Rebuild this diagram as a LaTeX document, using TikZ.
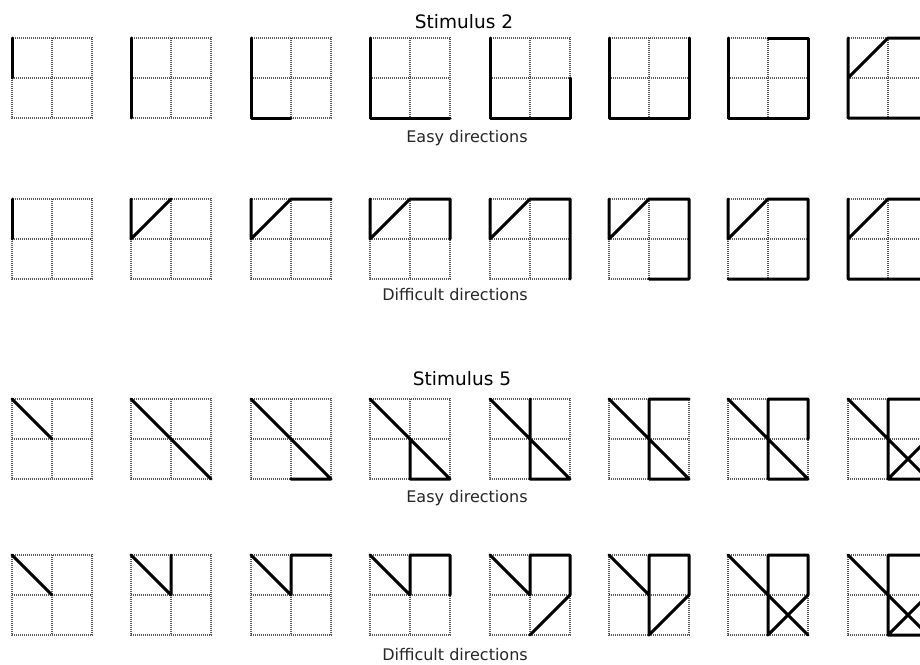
\documentclass[tikz,border=0pt]{standalone}
\usepackage{fontspec}
\newfontfamily\labelfont{DejaVu Sans}
\usetikzlibrary{positioning}

% one 2x2 cell panel: dotted grid, then the drawn strokes
\newcommand{\strokepanel}[3]{%
	\begin{scope}[shift={(#1,#2)},x=40pt,y=-40pt]
		\draw[gridline] (0,0) rectangle (2,2) (1,0) -- (1,2) (0,1) -- (2,1);
		\draw[strokeline] #3;
	\end{scope}}

\begin{document}
\begin{tikzpicture}[x=1pt,y=-1pt,
		gridline/.style={black!65,line width=1.8pt,dash pattern=on 1.2pt off 0.8pt},
		strokeline/.style={black,line width=3pt,line cap=round,line join=round},
		title/.style={font=\labelfont\fontsize{18.5}{20}\selectfont,anchor=base},
		caption/.style={font=\labelfont\fontsize{16}{18}\selectfont,anchor=base,black!85}]
				%\draw[color=gray,step=10, help lines,opacity=0.3] (0,0) grid (920,664); %help grids
				\useasboundingbox (0,0) rectangle (920,664);
				\clip (0,0) rectangle (920,664);

				\node[title] (stimtwo) at (464,28) {Stimulus 2};
				\node[caption] (easytwo) at (467,142) {Easy directions};
				\node[caption] (hardtwo) at (455,300) {Difficult directions};
				\node[title] (stimfive) at (462,385) {Stimulus 5};
				\node[caption] (easyfive) at (467,502) {Easy directions};
				\node[caption] (hardfive) at (455,660) {Difficult directions};

				% stimulus 2, easy
				\strokepanel{12}{38}{(0,0) -- (0,1)}
				\strokepanel{131}{38}{(0,0) -- (0,2)}
				\strokepanel{251}{38}{(0,0) -- (0,2) -- (1,2)}
				\strokepanel{370}{38}{(0,0) -- (0,2) -- (2,2)}
				\strokepanel{490}{38}{(0,0) -- (0,2) -- (2,2) -- (2,1)}
				\strokepanel{609}{38}{(0,0) -- (0,2) -- (2,2) -- (2,0)}
				\strokepanel{728}{38}{(0,0) -- (0,2) -- (2,2) -- (2,0) -- (1,0)}
				\strokepanel{848}{38}{(0,0) -- (0,2) -- (2,2) -- (2,0) -- (1,0) -- (0,1)}

				% stimulus 2, difficult
				\strokepanel{12}{199}{(0,0) -- (0,1)}
				\strokepanel{131}{199}{(0,0) -- (0,1) -- (1,0)}
				\strokepanel{251}{199}{(0,0) -- (0,1) -- (1,0) -- (2,0)}
				\strokepanel{370}{199}{(0,0) -- (0,1) -- (1,0) -- (2,0) -- (2,1)}
				\strokepanel{490}{199}{(0,0) -- (0,1) -- (1,0) -- (2,0) -- (2,2)}
				\strokepanel{609}{199}{(0,0) -- (0,1) -- (1,0) -- (2,0) -- (2,2) -- (1,2)}
				\strokepanel{728}{199}{(0,0) -- (0,1) -- (1,0) -- (2,0) -- (2,2) -- (0,2)}
				\strokepanel{848}{199}{(0,0) -- (0,1) -- (1,0) -- (2,0) -- (2,2) -- (0,2) -- (0,1)}

				% stimulus 5, easy
				\strokepanel{12}{399}{(0,0) -- (1,1)}
				\strokepanel{131}{399}{(0,0) -- (2,2)}
				\strokepanel{251}{399}{(0,0) -- (2,2) -- (1,2)}
				\strokepanel{370}{399}{(0,0) -- (2,2) -- (1,2) -- (1,1)}
				\strokepanel{490}{399}{(0,0) -- (2,2) -- (1,2) -- (1,0)}
				\strokepanel{609}{399}{(0,0) -- (2,2) -- (1,2) -- (1,0) -- (2,0)}
				\strokepanel{728}{399}{(0,0) -- (2,2) -- (1,2) -- (1,0) -- (2,0) -- (2,1)}
				\strokepanel{848}{399}{(0,0) -- (2,2) -- (1,2) -- (1,0) -- (2,0) -- (2,1) -- (1,2)}

				% stimulus 5, difficult
				\strokepanel{12}{555}{(0,0) -- (1,1)}
				\strokepanel{131}{555}{(0,0) -- (1,1) -- (1,0)}
				\strokepanel{251}{555}{(0,0) -- (1,1) -- (1,0) -- (2,0)}
				\strokepanel{370}{555}{(0,0) -- (1,1) -- (1,0) -- (2,0) -- (2,1)}
				\strokepanel{490}{555}{(0,0) -- (1,1) -- (1,0) -- (2,0) -- (2,1) -- (1,2)}
				\strokepanel{609}{555}{(0,0) -- (1,1) -- (1,0) -- (2,0) -- (2,1) -- (1,2) -- (1,1)}
				\strokepanel{728}{555}{(0,0) -- (1,1) -- (1,0) -- (2,0) -- (2,1) -- (1,2) -- (1,1) -- (2,2)}
				\strokepanel{848}{555}{(0,0) -- (1,1) -- (1,0) -- (2,0) -- (2,1) -- (1,2) -- (1,1) -- (2,2) -- (1,2)}
\end{tikzpicture}
\end{document}
